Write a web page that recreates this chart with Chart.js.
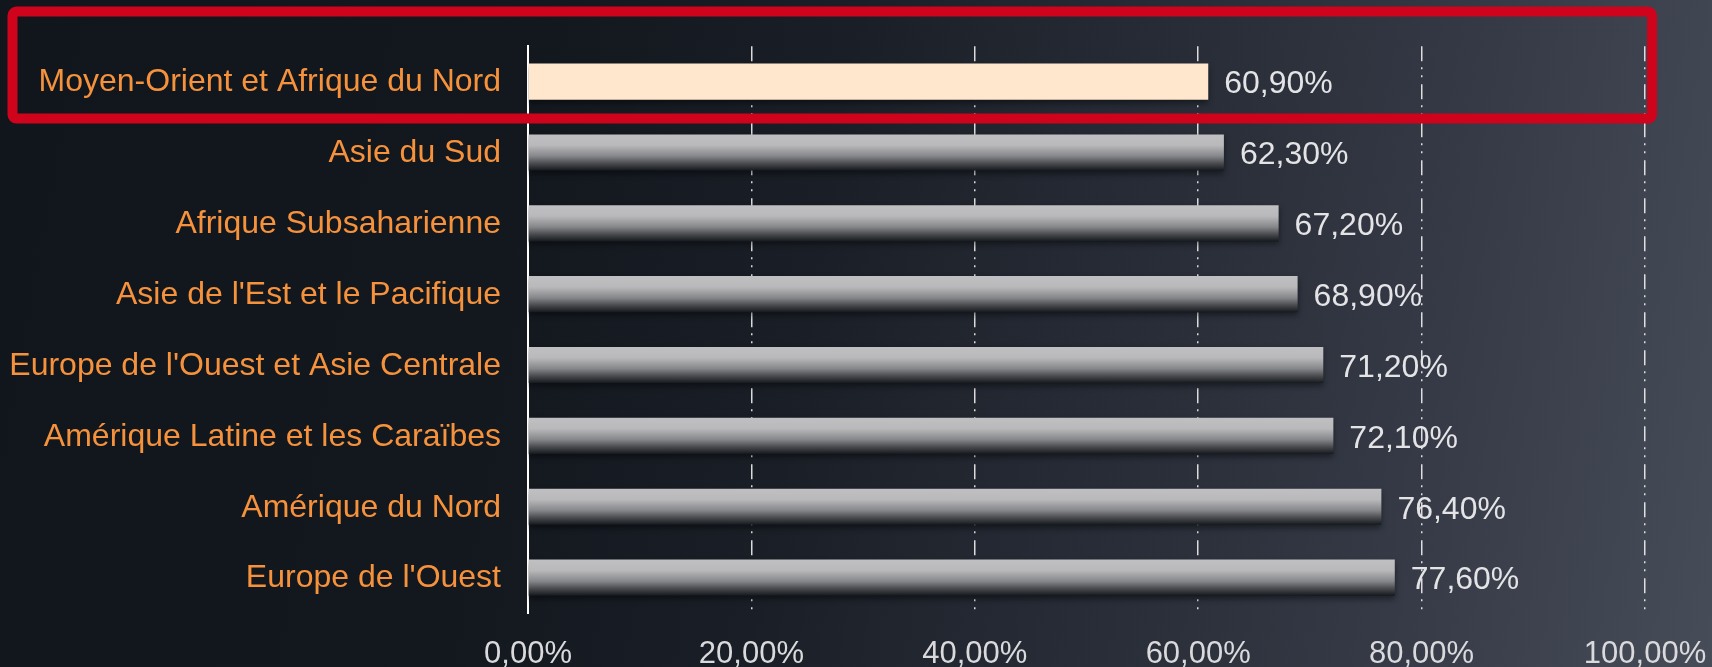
<!DOCTYPE html>
<html>
<head>
<meta charset="utf-8">
<script src="https://cdn.jsdelivr.net/npm/chart.js@4/dist/chart.umd.min.js"></script>
<style>
  html, body { margin: 0; padding: 0; }
  body {
    width: 1712px; height: 667px; overflow: hidden;
    background: linear-gradient(100deg, #11161d 0%, #13181f 30%, #1a1f27 47%, #2a2f3a 69%, #353a46 82%, #474c59 100%);
  }
  #wrap { position: relative; width: 1712px; height: 667px; }
</style>
</head>
<body>
<div id="wrap"><canvas id="c" width="1712" height="667"></canvas></div>
<script>
const categories = [
  "Moyen-Orient et Afrique du Nord",
  "Asie du Sud",
  "Afrique Subsaharienne",
  "Asie de l'Est et le Pacifique",
  "Europe de l'Ouest et Asie Centrale",
  "Amérique Latine et les Caraïbes",
  "Amérique du Nord",
  "Europe de l'Ouest"
];
const values = [60.9, 62.3, 67.2, 68.9, 71.2, 72.1, 76.4, 77.6];
const xTicks = [0, 20, 40, 60, 80, 100];
const highlightIndex = 0;

const fmt = v => v.toFixed(2).replace('.', ',') + '%';
const FONT = "'Liberation Sans', Arial, Helvetica, sans-serif";
const BAR_PCT = 0.51;

function barColor(ctx) {
  const chart = ctx.chart;
  const i = ctx.dataIndex;
  if (i === highlightIndex) return '#ffe7cd';
  const ys = chart.scales.y;
  if (!ys || !chart.chartArea) return '#b0b0b2';
  const c = ys.getPixelForValue(i);
  const h = (chart.chartArea.bottom - chart.chartArea.top) / categories.length * BAR_PCT / 2;
  const g = chart.ctx.createLinearGradient(0, c - h, 0, c + h);
  g.addColorStop(0, '#c0c0c2');
  g.addColorStop(0.3, '#b9b9bb');
  g.addColorStop(0.6, '#86878a');
  g.addColorStop(0.8, '#4a4c50');
  g.addColorStop(1, '#16191d');
  return g;
}

const barPlugin = {
  id: 'barDeco',
  beforeDatasetsDraw(chart) {
    const ctx = chart.ctx;
    ctx.save();
    ctx.shadowColor = 'rgba(0,0,0,0.45)';
    ctx.shadowBlur = 6;
    ctx.shadowOffsetY = 3;
  },
  afterDatasetsDraw(chart) {
    const ctx = chart.ctx;
    ctx.restore();
    const meta = chart.getDatasetMeta(0);
    ctx.save();
    ctx.font = "32px " + FONT;
    ctx.fillStyle = '#e4e4e6';
    ctx.textAlign = 'left';
    ctx.textBaseline = 'middle';
    meta.data.forEach((bar, i) => {
      ctx.fillText(fmt(values[i]), bar.x + 16, bar.y + 3);
    });
    ctx.restore();
  },
  afterDraw(chart) {
    const ctx = chart.ctx;
    const ys = chart.scales.y;
    const catH = (chart.chartArea.bottom - chart.chartArea.top) / categories.length;
    const c = ys.getPixelForValue(highlightIndex);
    const x1 = 12.5, x2 = chart.width - 60;
    const y1 = 11.5, y2 = c + catH / 2 + 1.5;
    ctx.save();
    ctx.strokeStyle = '#d0031c';
    ctx.lineWidth = 10;
    ctx.lineJoin = 'round';
    ctx.beginPath();
    ctx.roundRect(x1, y1, x2 - x1, y2 - y1, 4);
    ctx.stroke();
    ctx.restore();
  }
};

new Chart(document.getElementById('c'), {
  type: 'bar',
  data: {
    labels: categories,
    datasets: [{
      data: values,
      backgroundColor: barColor,
      borderWidth: 0,
      categoryPercentage: 1,
      barPercentage: BAR_PCT
    }]
  },
  options: {
    indexAxis: 'y',
    responsive: false,
    animation: false,
    devicePixelRatio: 1,
    layout: { padding: { top: 46, right: 67, bottom: 0, left: 0 } },
    plugins: { legend: { display: false }, tooltip: { enabled: false } },
    scales: {
      x: {
        min: 0, max: 100,
        afterBuildTicks: s => { s.ticks = xTicks.map(v => ({ value: v })); },
        afterFit: s => { s.height = 54; },
        grid: {
          display: true,
          drawTicks: false,
          color: c => c.index === 0 ? 'rgba(0,0,0,0)' : 'rgba(240,240,240,0.9)',
          lineWidth: 1.5
        },
        border: { display: false, dash: [15, 6, 2, 6, 2, 7] },
        ticks: {
          color: '#dadadc',
          font: { family: FONT, size: 31, lineHeight: 2.65 },
          padding: 0,
          maxRotation: 0,
          callback: v => fmt(v)
        }
      },
      y: {
        afterFit: s => { s.width = 528; },
        grid: { display: false, drawTicks: false },
        border: { display: true, color: '#ffffff', width: 2 },
        ticks: {
          color: '#f6923c',
          font: { family: FONT, size: 32 },
          padding: 27,
          labelOffset: 1
        }
      }
    }
  },
  plugins: [barPlugin]
});
</script>
</body>
</html>
